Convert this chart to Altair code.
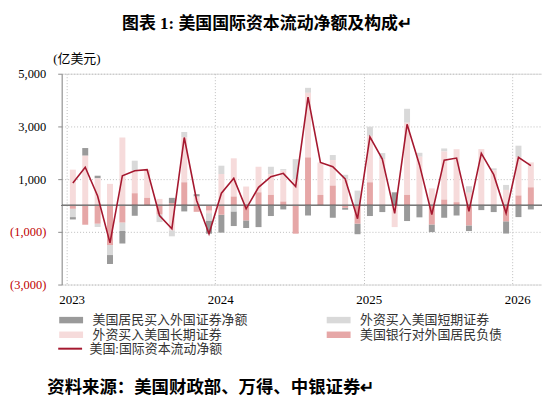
import altair as alt
import pandas as pd

# ---------------- data ----------------
years = [2023, 2024, 2025, 2026]
months = [f"{y}-{m:02d}" for y in years for m in range(1, 13)][:38]  # Jan 2023 .. Feb 2026

series_names = ["美国居民买入外国证券净额", "外资买入美国短期证券",
                "外资买入美国长期证券", "美国银行对外国居民负债"]
line_name = "美国:国际资本流动净额"

resident = [-90, 290, 100, -340, -480, -390, 0, 0, 200, -225, 90, -500,
            -680, -555, -290, -820, -400, -150, 0, -380, 0, -465, -70, -400,
            -400, -250, 500, -590, -450, -290, -465, -380, -215, -175, -250, -465,
            -440, -150]
short_term = [-315, 0, -125, -380, -315, 380, 0, -290, -230, 210, 0, -280,
              315, -225, 0, 0, 280, 60, 760, 190, 0, 190, 165, 565,
              350, 230, 0, 530, 150, 0, 115, 0, 250, 0, 80, 190,
              440, 0]
long_term = [1360, 1890, 1030, 820, 2580, 855, 1070, 250, -940, 1700, 340, -100,
             1195, 1450, 720, 970, 790, 1170, 1000, 2450, 1230, 970, 1000, 0,
             1760, 1760, -820, 2740, 1850, 650, 1825, 2010, 480, 2140, 1330, 590,
             1450, 945]
bank = [-125, -730, -690, -1500, -650, 465, 290, -340, 90, 880, -240, -190,
        -350, 340, -565, 500, 400, 150, -1070, 1825, 400, 755, -90, -690,
        880, 0, 0, 400, 0, -720, 225, 125, -755, 0, 0, -600,
        380, 690]
net_flow = [855, 1450, 360, -1420, 1130, 1320, 1360, -380, -880, 2580, 190, -1070,
            465, 1030, -125, 690, 1095, 1220, 720, 4110, 1635, 1470, 1005, -500,
            2600, 1760, -300, 3080, 1550, -340, 1720, 1800, -225, 1975, 1170, -290,
            1825, 1510]

y_ticks = [-3000, -1000, 1000, 3000, 5000]

colors = ["#9a9a9a", "#d9d9d9", "#f6dbdb", "#e6a7a7"]
line_color = "#a5182f"
# stacking order from zero outward: bank, long, short, resident
stack_rank = {series_names[3]: 0, series_names[2]: 1, series_names[1]: 2, series_names[0]: 3}

rows = []
for name, vals in zip(series_names, [resident, short_term, long_term, bank]):
    for i, v in enumerate(vals):
        rows.append({"idx": i, "month": months[i], "series": name,
                     "value": v, "rank": stack_rank[name]})
bar_df = pd.DataFrame(rows)
line_df = pd.DataFrame({"idx": list(range(len(net_flow))), "month": months,
                        "value": net_flow, "name": line_name})

FONT = "'Liberation Serif', 'Noto Sans CJK SC'"
CJK = "'Liberation Serif', 'Noto Sans CJK SC'"

x_scale = alt.Scale(domain=[-0.5, len(months) - 0.5], nice=False, zero=False)
y_scale = alt.Scale(domain=[-3000, 5000], nice=False, zero=False)

x_axis = alt.Axis(
    values=[-0.5, 11.5, 23.5, 35.5],
    labelExpr="toString(2023 + round((datum.value + 0.5) / 12))",
    labelOffset=5, labelFlush=False, labelOverlap=False,
    labelFont=FONT, labelFontSize=13, labelColor="#000", labelPadding=9,
    ticks=False, domain=False,
    grid=True, gridDash=[1, 2], gridColor="#bdbdbd", gridWidth=1,
    title="资料来源：美国财政部、万得、中银证券↵",
    titleX=-15, titleY=104, titleAlign="left", titleAnchor="start",
    titleBaseline="middle", titleFont=CJK, titleFontSize=17.5,
    titleFontWeight="bold", titleColor="#000",
)
y_axis = alt.Axis(
    values=y_ticks,
    labelExpr="datum.value < 0 ? '(' + format(-datum.value, ',') + ')' : format(datum.value, ',')",
    labelColor={"condition": {"test": "datum.value < 0", "value": "#c00000"}, "value": "#000"},
    labelFont=FONT, labelFontSize=12.5, labelPadding=12,
    tickSize=4, tickColor="#8c8c8c", domainColor="#8c8c8c",
    grid=True, gridDash=[1, 2], gridColor="#bdbdbd", gridWidth=1,
    title="(亿美元)", titleAngle=0, titleX=-9, titleY=-15,
    titleAlign="left", titleAnchor="start", titleBaseline="middle", titleFont=CJK,
    titleFontSize=13, titleFontWeight="normal", titleColor="#000",
)

bars = alt.Chart(bar_df).mark_bar(size=6).encode(
    x=alt.X("idx:Q", scale=x_scale, axis=x_axis),
    y=alt.Y("value:Q", stack="zero", scale=y_scale, axis=y_axis),
    color=alt.Color("series:N",
                    scale=alt.Scale(domain=series_names, range=colors),
                    legend=alt.Legend(
                        title=None, orient="none", legendX=-4, legendY=241,
                        direction="horizontal",
                        columns=2, columnPadding=77, rowPadding=1,
                        symbolType="M-2.4,-0.65H2.4V0.65H-2.4Z", symbolSize=100,
                        symbolStrokeWidth=0, symbolOffset=7, labelOffset=15,
                        labelFont=CJK, labelFontSize=13, labelColor="#333",
                        labelLimit=400)),
    order=alt.Order("rank:Q", sort="ascending"),
)

zero = alt.Chart(line_df).mark_rule(color="#7a7a7a", strokeWidth=1).encode(
    y=alt.datum(0)
)

line = alt.Chart(line_df).mark_line(strokeWidth=1.6).encode(
    x=alt.X("idx:Q", scale=x_scale),
    y=alt.Y("value:Q", scale=y_scale),
    stroke=alt.Stroke("name:N",
                      scale=alt.Scale(domain=[line_name], range=[line_color]),
                      legend=alt.Legend(
                          title=None, orient="none", legendX=-4, legendY=270,
                          symbolType="M-2.4,0H2.4", symbolSize=100,
                          symbolStrokeWidth=2, symbolOffset=6, labelOffset=13,
                          labelFont=CJK, labelFontSize=13, labelColor="#333",
                          labelLimit=400)),
)

chart = alt.layer(bars, zero, line).properties(
    width=483, height=212,
    padding={"left": 54, "top": 65, "right": 0, "bottom": 115},
    autosize=alt.AutoSizeParams(type="none"),
    title=alt.TitleParams(
        text="图表 1: 美国国际资本流动净额及构成↵",
        font=CJK, fontSize=17, fontWeight="bold", color="#000",
        anchor="middle", dx=-35, offset=20,
    ),
).configure_view(stroke=None).configure(background="white")

chart.save("out.html", embed_options={"renderer": "svg", "actions": False})
